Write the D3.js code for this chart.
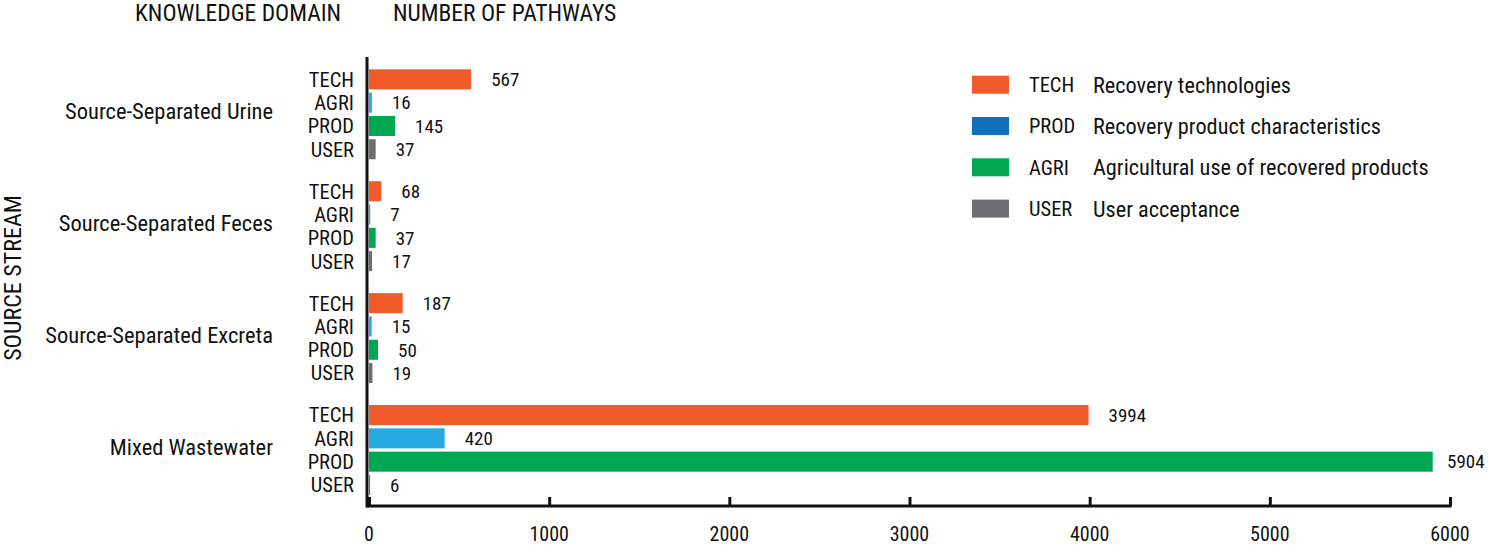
<!DOCTYPE html>
<html>
<head>
<meta charset="utf-8">
<script src="https://cdn.jsdelivr.net/npm/d3@7"></script>
<style>
  body { margin: 0; background: #fff; }
  svg text { font-family: "Roboto Condensed", Roboto, "Liberation Sans Narrow", sans-serif; fill: #111; }
</style>
</head>
<body>
<script>
// source streams (groups), top to bottom
const streams = ['Source-Separated Urine', 'Source-Separated Feces', 'Source-Separated Excreta', 'Mixed Wastewater'];
// knowledge domains, bar order inside every group
const domains = ['TECH', 'AGRI', 'PROD', 'USER'];
// number of pathways, one array per domain, in stream order
const techValues = [567, 68, 187, 3994];
const agriValues = [16, 7, 15, 420];
const prodValues = [145, 37, 50, 5904];
const userValues = [37, 17, 19, 6];
const xTicks = [0, 1000, 2000, 3000, 4000, 5000, 6000];

// legend entries (order and colours as printed in the legend)
const legendCodes = ['TECH', 'PROD', 'AGRI', 'USER'];
const legendLabels = ['Recovery technologies', 'Recovery product characteristics', 'Agricultural use of recovered products', 'User acceptance'];
const legendColors = ['#f15a2b', '#0f71bb', '#00a651', '#6d6e71'];

const barColors = { TECH: '#f15a2b', AGRI: '#27aae1', PROD: '#00a651', USER: '#6d6e71' };

const valuesByDomain = { TECH: techValues, AGRI: agriValues, PROD: prodValues, USER: userValues };
const rows = [];
streams.forEach((s, i) => {
  domains.forEach(d => rows.push({ stream: s, domain: d, value: valuesByDomain[d][i] }));
});

const width = 1488, height = 546;
const svg = d3.select('body').append('svg')
  .attr('width', width)
  .attr('height', height);

const x = d3.scaleLinear().domain([0, 6000]).range([369, 1450]);
const y0 = d3.scaleBand().domain(streams).range([67.7, 496.6]).paddingInner(0.167).paddingOuter(0);
const y1 = d3.scaleBand().domain(domains).range([0, y0.bandwidth()]).paddingInner(0.14).paddingOuter(0.07);

// bars
svg.append('g').selectAll('rect')
  .data(rows)
  .enter()
  .append('rect')
  .attr('x', x(0))
  .attr('y', d => y0(d.stream) + y1(d.domain))
  .attr('width', d => x(d.value) - x(0))
  .attr('height', y1.bandwidth())
  .attr('fill', d => barColors[d.domain]);

// value labels (kept inside the right edge)
svg.append('g').selectAll('text')
  .data(rows)
  .enter()
  .append('text')
  .attr('x', d => Math.min(x(d.value) + 20, 1447))
  .attr('y', d => y0(d.stream) + y1(d.domain) + y1.bandwidth() / 2)
  .attr('dy', '0.36em')
  .style('font-size', '19px')
  .text(d => d.value);

// domain labels at each bar
svg.append('g').selectAll('text')
  .data(rows)
  .enter()
  .append('text')
  .attr('x', 354)
  .attr('y', d => y0(d.stream) + y1(d.domain) + y1.bandwidth() / 2)
  .attr('dy', '0.36em')
  .attr('text-anchor', 'end')
  .style('font-size', '20.5px')
  .text(d => d.domain);

// stream labels
svg.append('g').selectAll('text')
  .data(streams)
  .enter()
  .append('text')
  .attr('x', 273)
  .attr('y', d => y0(d) + y0.bandwidth() / 2 - 3)
  .attr('dy', '0.36em')
  .attr('text-anchor', 'end')
  .style('font-size', '22.5px')
  .text(d => d);

// x axis, ticks pointing inward
const xAxis = svg.append('g')
  .attr('transform', 'translate(0,506)')
  .call(d3.axisTop(x).tickValues(xTicks).tickSize(9).tickFormat(''));
xAxis.select('.domain').remove();
xAxis.selectAll('.tick line').attr('stroke', '#111').attr('stroke-width', 3);
svg.append('line')
  .attr('x1', 367).attr('x2', x(6000) + 1.5)
  .attr('y1', 506).attr('y2', 506)
  .attr('stroke', '#111').attr('stroke-width', 3);
svg.append('line')
  .attr('x1', 367).attr('x2', 367)
  .attr('y1', 57).attr('y2', 507.5)
  .attr('stroke', '#111').attr('stroke-width', 3);

svg.append('g').selectAll('text')
  .data(xTicks)
  .enter()
  .append('text')
  .attr('x', d => x(d))
  .attr('y', 534)
  .attr('dy', '0.36em')
  .attr('text-anchor', 'middle')
  .style('font-size', '20px')
  .text(d => d);

// headers
svg.append('text').attr('x', 135).attr('y', 13).attr('dy', '0.36em')
  .style('font-size', '23.5px').text('KNOWLEDGE DOMAIN');
svg.append('text').attr('x', 393).attr('y', 13).attr('dy', '0.36em')
  .style('font-size', '23.5px').text('NUMBER OF PATHWAYS');
svg.append('text')
  .attr('transform', 'translate(12,278) rotate(-90)')
  .attr('dy', '0.36em')
  .attr('text-anchor', 'middle')
  .style('font-size', '24px')
  .text('SOURCE STREAM');

// legend
const legend = svg.append('g').selectAll('g')
  .data(legendCodes)
  .enter()
  .append('g')
  .attr('transform', (d, i) => `translate(972,${75.7 + i * 41.3})`);
legend.append('rect')
  .attr('width', 37).attr('height', 18)
  .attr('fill', (d, i) => legendColors[i]);
legend.append('text')
  .attr('x', 57).attr('y', 9).attr('dy', '0.36em')
  .style('font-size', '20.5px')
  .text(d => d);
legend.append('text')
  .attr('x', 121).attr('y', 9).attr('dy', '0.36em')
  .style('font-size', '22.3px')
  .text((d, i) => legendLabels[i]);
</script>
</body>
</html>
